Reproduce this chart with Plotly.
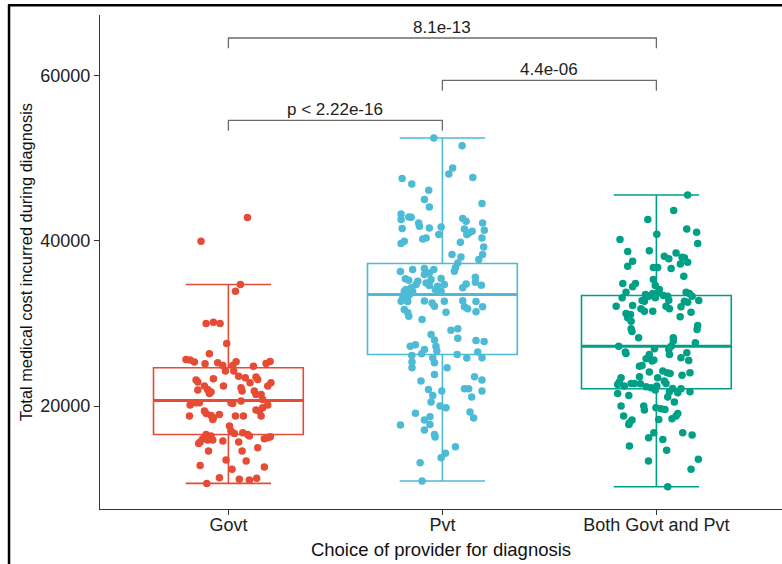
import plotly.graph_objects as go

# ---------------- data ----------------
categories = ["Govt", "Pvt", "Both Govt and Pvt"]

govt_cost = [39950, 34710, 33900, 29990, 30150, 29990, 27570, 26320, 25640, 25560,
             25320, 25110, 25230, 24910, 25360, 24910, 25150, 25400, 24830, 24230,
             24230, 23620, 23420, 23500, 23220, 23140, 22900, 23300, 22810, 22410,
             22810, 22210, 21810, 22410, 22010, 21690, 21520, 22410, 21930, 21810,
             21400, 21400, 20800, 20110, 20390, 20390, 20390, 20310, 20600, 20110,
             19790, 19510, 19390, 18780, 19390, 19100, 18860, 18580, 18980, 18780,
             18780, 18780, 17570, 16970, 16680, 18380, 16560, 16360, 16040, 15640,
             15470, 15880, 15880, 15760, 15640, 16770, 16560, 16360, 16040, 16160,
             16280, 14950, 14550, 14550, 13460, 13340, 12810, 12330, 12610, 11320,
             11120, 11040, 11240, 10630, 42820]
govt_jitter = [-0.128, 0.056, 0.033, -0.104, -0.070, -0.039, -0.008, -0.089, -0.198, -0.179,
               -0.159, -0.109, -0.050, -0.026, 0.036, 0.020, 0.176, 0.195, 0.117, -0.014,
               0.025, 0.048, 0.079, 0.129, 0.137, -0.151, -0.143, -0.070, 0.199, 0.184,
               0.101, 0.059, 0.064, -0.112, -0.097, -0.081, -0.089, -0.023, -0.143, 0.121,
               0.129, 0.153, 0.160, -0.179, -0.151, -0.136, 0.012, 0.020, 0.059, 0.184,
               0.160, 0.129, 0.145, 0.153, -0.112, -0.104, -0.081, -0.070, -0.042, -0.182,
               0.033, 0.070, 0.005, 0.012, 0.028, -0.073, -0.104, -0.081, -0.120, -0.132,
               -0.139, -0.097, -0.073, -0.026, 0.048, 0.067, 0.090, 0.098, 0.168, 0.184,
               0.196, 0.137, 0.064, -0.093, -0.011, 0.083, -0.132, 0.017, 0.168, -0.042,
               0.051, 0.098, 0.132, -0.101, 0.089]

pvt_cost = [52460, 51530, 48830, 48100, 47540, 46890, 47660, 46130, 45000, 44110,
            44510, 43260, 42580, 42900, 42860, 42170, 41770, 41570, 41690, 40760,
            41490, 42700, 42380, 41450, 40960, 40760, 41170, 42170, 41290, 40360,
            39270, 38340, 37740, 40240, 40360, 39670, 39960, 39840, 38340, 38060,
            37330, 36730, 36330, 36290, 36530, 36650, 36530, 35920, 36120, 35320,
            35440, 35400, 35240, 35120, 34710, 34910, 34590, 34310, 34110, 33910,
            34510, 34710, 34110, 33910, 34790, 34310, 35600, 35000, 34630, 33100,
            33300, 33500, 33910, 32700, 32650, 32720, 32490, 32090, 32680, 32740,
            32010, 31770, 32660, 32010, 31410, 31690, 31290, 30880, 30480, 31370,
            29190, 29350, 28220, 28660, 27980, 27250, 26650, 25840, 25240, 27250,
            27410, 26120, 26320, 26850, 25320, 24630, 26240, 25800, 27940, 27820,
            26530, 25840, 24630, 23020, 23820, 23540, 23140, 22010, 21280, 20480,
            21810, 19990, 19790, 22090, 22090, 21080, 21810, 19110, 18300, 18700,
            17770, 17090, 17690, 19270, 18540, 16560, 16240, 15070, 14270, 13740,
            13140, 10920]
pvt_jitter = [-0.040, 0.092, 0.048, 0.030, -0.188, -0.143, 0.142, -0.064, -0.084, -0.061,
              0.185, -0.193, -0.193, -0.157, -0.146, -0.111, -0.107, -0.061, -0.006, -0.017,
              -0.188, 0.095, 0.111, 0.103, 0.123, 0.114, 0.139, 0.188, 0.196, 0.185,
              0.193, 0.188, 0.170, -0.092, -0.076, -0.193, -0.178, 0.084, 0.045, 0.087,
              0.072, 0.061, 0.056, -0.196, -0.139, -0.084, -0.040, -0.084, -0.061, -0.053,
              -0.006, -0.173, -0.157, -0.115, -0.123, -0.076, -0.061, -0.146, -0.170, -0.178,
              -0.022, 0.009, -0.033, -0.006, 0.111, 0.095, 0.154, 0.154, 0.182, -0.185,
              -0.162, -0.154, -0.139, -0.193, -0.162, -0.084, -0.048, -0.037, 0.009, 0.095,
              0.103, 0.118, 0.157, 0.188, 0.157, -0.178, -0.162, -0.157, -0.095, 0.017,
              0.040, 0.072, 0.072, -0.053, -0.037, -0.030, -0.026, -0.045, -0.037, -0.150,
              -0.126, -0.143, -0.097, -0.084, -0.142, -0.142, 0.069, 0.114, 0.157, 0.195,
              0.165, 0.185, 0.022, -0.100, -0.037, 0.150, 0.185, -0.065, -0.045, -0.053,
              -0.003, -0.011, 0.017, 0.103, 0.123, 0.137, 0.185, -0.126, -0.084, -0.058,
              -0.058, -0.084, -0.196, 0.129, 0.146, -0.037, -0.034, 0.061, 0.014, -0.006,
              -0.104, -0.095]

both_cost = [45560, 43670, 42580, 40800, 41450, 41040, 39670, 40160, 38790, 38710,
             38140, 37820, 38540, 38020, 37940, 37410, 37210, 37540, 36930, 36770,
             36770, 36650, 35720, 35320, 34590, 34110, 34830, 34830, 34430, 33790,
             33500, 33300, 33620, 33100, 33700, 33380, 33300, 32820, 33790, 33620,
             33300, 33100, 32090, 32170, 32780, 32700, 32700, 32580, 32780, 31770,
             31490, 31490, 32090, 31770, 32010, 31370, 31200, 31080, 30680, 30280,
             30800, 29350, 29030, 29750, 29270, 28260, 28260, 27860, 27650, 27250,
             26530, 26360, 26930, 26850, 27250, 26240, 25720, 25440, 25560, 26240,
             25840, 26440, 25520, 24910, 24830, 24110, 24230, 24030, 23940, 23740,
             24030, 23540, 23420, 23420, 22900, 22610, 22410, 22730, 22730, 22690,
             22330, 22210, 22410, 23020, 22730, 22130, 21930, 21730, 21610, 22090,
             21730, 21520, 21280, 21080, 20480, 19990, 19990, 19510, 19790, 19670,
             19590, 19100, 18780, 18460, 18780, 18300, 17980, 17770, 18380, 16770,
             16160, 15960, 16770, 16480, 15150, 14630, 13340, 12330, 13540, 10230]
both_jitter = [0.146, 0.081, -0.040, 0.002, 0.142, 0.188, 0.193, -0.170, -0.033, -0.134,
               0.037, 0.058, 0.092, 0.120, 0.131, 0.146, 0.112, -0.111, -0.134, -0.014,
               0.006, 0.069, 0.128, -0.014, -0.005, 0.014, -0.157, -0.098, -0.111, -0.142,
               -0.051, -0.036, -0.017, -0.005, 0.006, 0.033, 0.053, 0.058, 0.139, 0.154,
               0.167, -0.160, -0.188, -0.111, -0.067, -0.056, 0.131, 0.146, 0.198, -0.072,
               -0.056, -0.017, 0.045, 0.061, 0.115, 0.162, -0.142, -0.121, -0.134, -0.118,
               0.111, -0.118, -0.114, 0.193, 0.190, -0.083, 0.079, 0.079, 0.182, -0.176,
               -0.145, -0.142, -0.009, 0.058, 0.069, -0.033, -0.048, -0.020, -0.012, 0.061,
               0.115, 0.142, 0.151, -0.067, -0.079, -0.033, 0.030, 0.050, 0.064, 0.120,
               0.157, -0.079, 0.006, -0.165, -0.173, -0.181, -0.150, -0.118, -0.103, -0.075,
               -0.048, -0.025, 0.002, 0.037, 0.045, 0.076, -0.005, 0.061, 0.100, 0.115,
               0.157, -0.181, -0.129, 0.053, 0.084, -0.165, -0.059, -0.056, -0.002, 0.022,
               0.040, 0.100, 0.092, 0.073, -0.153, -0.114, -0.126, -0.129, 0.011, -0.012,
               -0.036, 0.030, 0.123, 0.167, -0.126, 0.048, -0.037, 0.162, 0.196, 0.053]

# box statistics (as drawn)
box_q1 = [16560, 26240, 22090]
box_median = [20680, 33500, 27250]
box_q3 = [24630, 37250, 33380]
box_lower = [10630, 10920, 10230]
box_upper = [34710, 52460, 45560]

# pairwise comparisons
comparisons = [(0, 1), (1, 2), (0, 2)]
p_labels = ["p < 2.22e-16", "4.4e-06", "8.1e-13"]

y_tick_values = [20000, 40000, 60000]

# ---------------- style ----------------
colors = ["#E64B35", "#4DBBD5", "#00A087"]
FONT = "Liberation Sans, Arial, sans-serif"
BOX_WIDTH = 0.7
bracket_levels = [54590, 59430, 64565]
bracket_drop = 1250

fig = go.Figure()

groups = [(govt_cost, govt_jitter), (pvt_cost, pvt_jitter), (both_cost, both_jitter)]

for i, cat in enumerate(categories):
    fig.add_trace(go.Box(
        x=[i], q1=[box_q1[i]], median=[box_median[i]], q3=[box_q3[i]],
        lowerfence=[box_lower[i]], upperfence=[box_upper[i]],
        width=BOX_WIDTH, whiskerwidth=0.57,
        line=dict(color=colors[i], width=1.6),
        fillcolor="rgba(255,255,255,0)",
        boxpoints=False, name=cat, showlegend=False, hoverinfo="skip",
    ))
    fig.add_trace(go.Scatter(
        x=[i - BOX_WIDTH / 2, i + BOX_WIDTH / 2], y=[box_median[i], box_median[i]],
        mode="lines", line=dict(color=colors[i], width=3),
        showlegend=False, hoverinfo="skip",
    ))

for i, (cost, jit) in enumerate(groups):
    fig.add_trace(go.Scatter(
        x=[i + j for j in jit], y=cost, mode="markers",
        marker=dict(color=colors[i], size=7.5, line=dict(width=0)),
        showlegend=False, name=categories[i],
    ))

shapes = []
annotations = []
for (a, b), lvl, lab in zip(comparisons, bracket_levels, p_labels):
    shapes.append(dict(type="path", xref="x", yref="y",
                       path=f"M {a},{lvl - bracket_drop} L {a},{lvl} L {b},{lvl} L {b},{lvl - bracket_drop}",
                       line=dict(color="#6b6b6b", width=1.3)))
    annotations.append(dict(x=(a + b) / 2, y=lvl, xref="x", yref="y", text=lab,
                            showarrow=False, yanchor="bottom", yshift=-1,
                            font=dict(family=FONT, size=17, color="#222222")))

# page frame (document border around the figure)
shapes.append(dict(type="line", xref="paper", yref="paper", x0=-0.135, x1=1.0, y0=1.0196, y1=1.0196,
                   line=dict(color="black", width=2.5)))
shapes.append(dict(type="line", xref="paper", yref="paper", x0=-0.1334, x1=-0.1334, y0=1.0196, y1=-0.12,
                   line=dict(color="black", width=2.5)))

# cut-off document title above the frame
annotations.append(dict(x=0.47, y=1.0196, xref="paper", yref="paper",
                        text="<b>Comparing average diagnosing cost among choice of provider</b>",
                        showarrow=False, yanchor="bottom", yshift=6,
                        font=dict(family="Liberation Serif, Times New Roman, serif", size=22, color="black")))

fig.update_layout(
    width=782, height=564,
    margin=dict(l=100, r=0, t=15, b=55),
    plot_bgcolor="white", paper_bgcolor="white",
    showlegend=False,
    font=dict(family=FONT, color="#222222"),
    shapes=shapes, annotations=annotations,
    xaxis=dict(range=[-0.6, 2.587], tickvals=[0, 1, 2], ticktext=categories,
               showline=True, linecolor="#333333", linewidth=1.4, mirror=False,
               ticks="outside", ticklen=5, tickwidth=1.4, tickcolor="#333333",
               showgrid=False, zeroline=False, ticklabelstandoff=-6,
               tickfont=dict(family=FONT, size=18, color="#222222"),
               title=dict(text="Choice of provider for diagnosis", standoff=9,
                          font=dict(family=FONT, size=18.5, color="#111111"))),
    yaxis=dict(range=[7530, 67350], tickvals=y_tick_values, tickformat="d",
               showline=True, linecolor="#333333", linewidth=1.4,
               ticks="outside", ticklen=5, tickwidth=1.4, tickcolor="#333333",
               showgrid=False, zeroline=False,
               tickfont=dict(family=FONT, size=18, color="#222222"),
               title=dict(text="Total medical cost incurred during diagnosis", standoff=3,
                          font=dict(family=FONT, size=16.4, color="#111111"))),
)

fig.write_html("out.html", config={"displayModeBar": False},
               post_script="document.body.style.margin='0';")
